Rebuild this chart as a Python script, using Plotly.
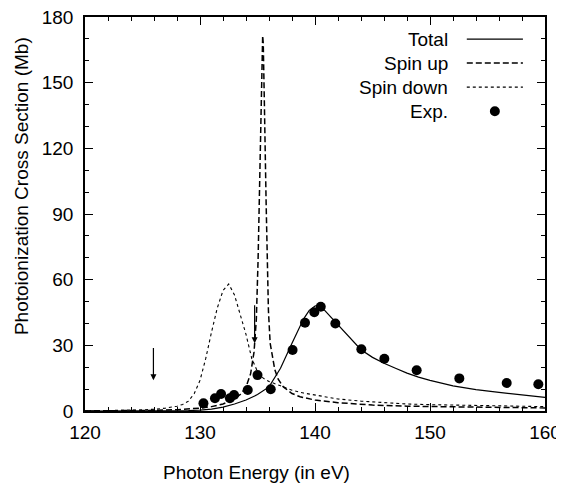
import plotly.graph_objects as go

# ---------------- data ----------------
total_x = [120, 126, 128, 129, 130, 131, 132, 133, 134, 135, 136, 137, 138, 139, 139.5, 140, 140.4,
           141, 142, 143, 144, 145, 146, 147, 148, 149, 150, 152, 154, 156, 158, 160]
total_y = [0, 0, 0.1, 0.2, 0.4, 0.9, 1.8, 3.2, 5.0, 7.5, 11, 19.5, 31, 42, 46, 48, 48.5,
           45, 39.5, 33.5, 28, 24.5, 21.8, 19.5, 17.3, 15.5, 14, 11.5, 9.8, 8.5, 7.2, 6.2]

up_x = [120, 124, 126, 128, 129, 130, 131, 132, 133, 133.5, 134, 134.4, 134.7, 134.9, 135.05,
        135.2, 135.3, 135.35, 135.4, 135.45, 135.5, 135.55, 135.6, 135.75, 135.85, 135.95, 136.1,
        136.3, 136.5, 136.8, 137.25, 138, 138.7, 140, 142, 145, 148, 152, 156, 160]
up_y = [0.05, 0.15, 0.3, 0.6, 0.9, 1.3, 2, 3.2, 5.5, 7.5, 11, 17, 27, 42, 69,
        110, 145, 157, 168, 171.5, 168, 157, 140, 95, 69, 46, 31,
        24, 19, 14.5, 11, 8, 6.5, 5, 3.8, 2.7, 2.2, 1.9, 1.6, 1.4]

down_x = [120, 122, 124, 125, 126, 127, 128, 128.5, 129, 129.5, 130, 130.5, 131, 131.5, 132,
          132.5, 133, 133.5, 134, 134.5, 135, 135.5, 136, 137, 138, 139, 140, 142, 144, 146,
          148, 150, 155, 160]
down_y = [0.05, 0.1, 0.3, 0.5, 0.8, 1.3, 2.2, 3, 4.5, 8, 14, 24, 36, 47, 55,
          58, 53, 44, 35, 24, 18, 15, 13.5, 11.5, 9.5, 8.2, 7.2, 5.5, 4.5, 3.7,
          3.2, 2.9, 2.4, 2.0]

exp_x = [130.3, 131.3, 131.83, 132.6, 132.96, 134.15, 135.0, 136.15, 138.05, 139.13, 139.94,
         140.5, 141.77, 144.03, 146.03, 148.84, 152.55, 156.67, 159.42]
exp_y = [3.5, 5.8, 7.8, 5.8, 7.3, 9.6, 16.4, 9.9, 27.9, 40.3, 45.1,
         47.6, 40.0, 28.2, 23.9, 18.6, 14.9, 12.8, 12.2]

legend_labels = ["Total", "Spin up", "Spin down", "Exp."]
arrow_x = [125.95, 134.75]
arrow_top = [29.5, 49]
arrow_tip = [14, 31]

FONT = "Liberation Sans, Arial, Helvetica, sans-serif"
FS = 19

fig = go.Figure()
fig.add_trace(go.Scatter(x=total_x, y=total_y, mode="lines",
                         line=dict(color="black", width=1.2), name="Total"))
fig.add_trace(go.Scatter(x=up_x, y=up_y, mode="lines",
                         line=dict(color="black", width=1.5, dash="6px,3px"), name="Spin up"))
fig.add_trace(go.Scatter(x=down_x, y=down_y, mode="lines",
                         line=dict(color="black", width=1.1, dash="3px,3px"), name="Spin down"))
fig.add_trace(go.Scatter(x=exp_x, y=exp_y, mode="markers",
                         marker=dict(color="black", size=10, symbol="circle"), name="Exp."))

# arrows
for ax_, top, tip in zip(arrow_x, arrow_top, arrow_tip):
    fig.add_annotation(x=ax_, y=tip, ax=ax_, ay=top, xref="x", yref="y", axref="x", ayref="y",
                       showarrow=True, arrowhead=2, arrowsize=1, arrowwidth=1.2,
                       arrowcolor="black", text="")

# custom gnuplot-style legend (text right-aligned, sample on the right)
leg_y = [0.944, 0.883, 0.822, 0.761]
styles = [dict(dash="solid", width=1.2), dict(dash="6px,3px", width=1.5),
          dict(dash="3px,3px", width=1.1), None]
for lab, yy, st in zip(legend_labels, leg_y, styles):
    fig.add_annotation(x=0.793, y=yy, xref="paper", yref="paper", xanchor="right",
                       yanchor="middle", text=lab, showarrow=False,
                       font=dict(family=FONT, size=FS, color="black"))
    if st is not None:
        fig.add_shape(type="line", xref="paper", yref="paper", x0=0.830, x1=0.952,
                      y0=yy, y1=yy, line=dict(color="black", width=st["width"], dash=st["dash"]))
    else:
        fig.add_shape(type="circle", xref="paper", yref="paper", xsizemode="pixel",
                      ysizemode="pixel", xanchor=0.891, yanchor=yy, x0=-5, x1=5, y0=-5, y1=5,
                      fillcolor="black", line=dict(color="black", width=0))

# axis titles as annotations (offset like the original)
fig.add_annotation(x=0.372, y=-0.155, xref="paper", yref="paper", text="Photon Energy (in eV)",
                   showarrow=False, font=dict(family=FONT, size=FS, color="black"),
                   xanchor="center", yanchor="middle")
fig.add_annotation(x=-0.139, y=0.571, xref="paper", yref="paper",
                   text="Photoionization Cross Section (Mb)", textangle=-90,
                   showarrow=False, font=dict(family=FONT, size=FS, color="black"),
                   xanchor="center", yanchor="middle")

axis_common = dict(showline=True, linecolor="black", linewidth=1.5, mirror="allticks",
                   ticks="inside", ticklen=8, tickwidth=1.2, tickcolor="black",
                   showgrid=False, zeroline=False, automargin=False,
                   ticklabeloverflow="allow",
                   tickfont=dict(family=FONT, size=FS, color="black"))
fig.update_xaxes(range=[120, 160], tick0=120, dtick=10,
                 minor=dict(ticks="inside", ticklen=4, dtick=2, tickcolor="black", tickwidth=1.2),
                 ticklabelstandoff=3, **axis_common)
fig.update_yaxes(range=[0, 180], tick0=0, dtick=30,
                 minor=dict(ticks="inside", ticklen=4, dtick=10, tickcolor="black", tickwidth=1.2),
                 ticklabelstandoff=6, **axis_common)

# page body has an 8px margin, so the figure is sized/offset to compensate
fig.update_layout(width=556, height=475, margin=dict(l=77, r=19, t=9, b=72),
                  plot_bgcolor="white", paper_bgcolor="white", showlegend=False,
                  font=dict(family=FONT, size=FS, color="black"))

fig.write_html("out.html")
